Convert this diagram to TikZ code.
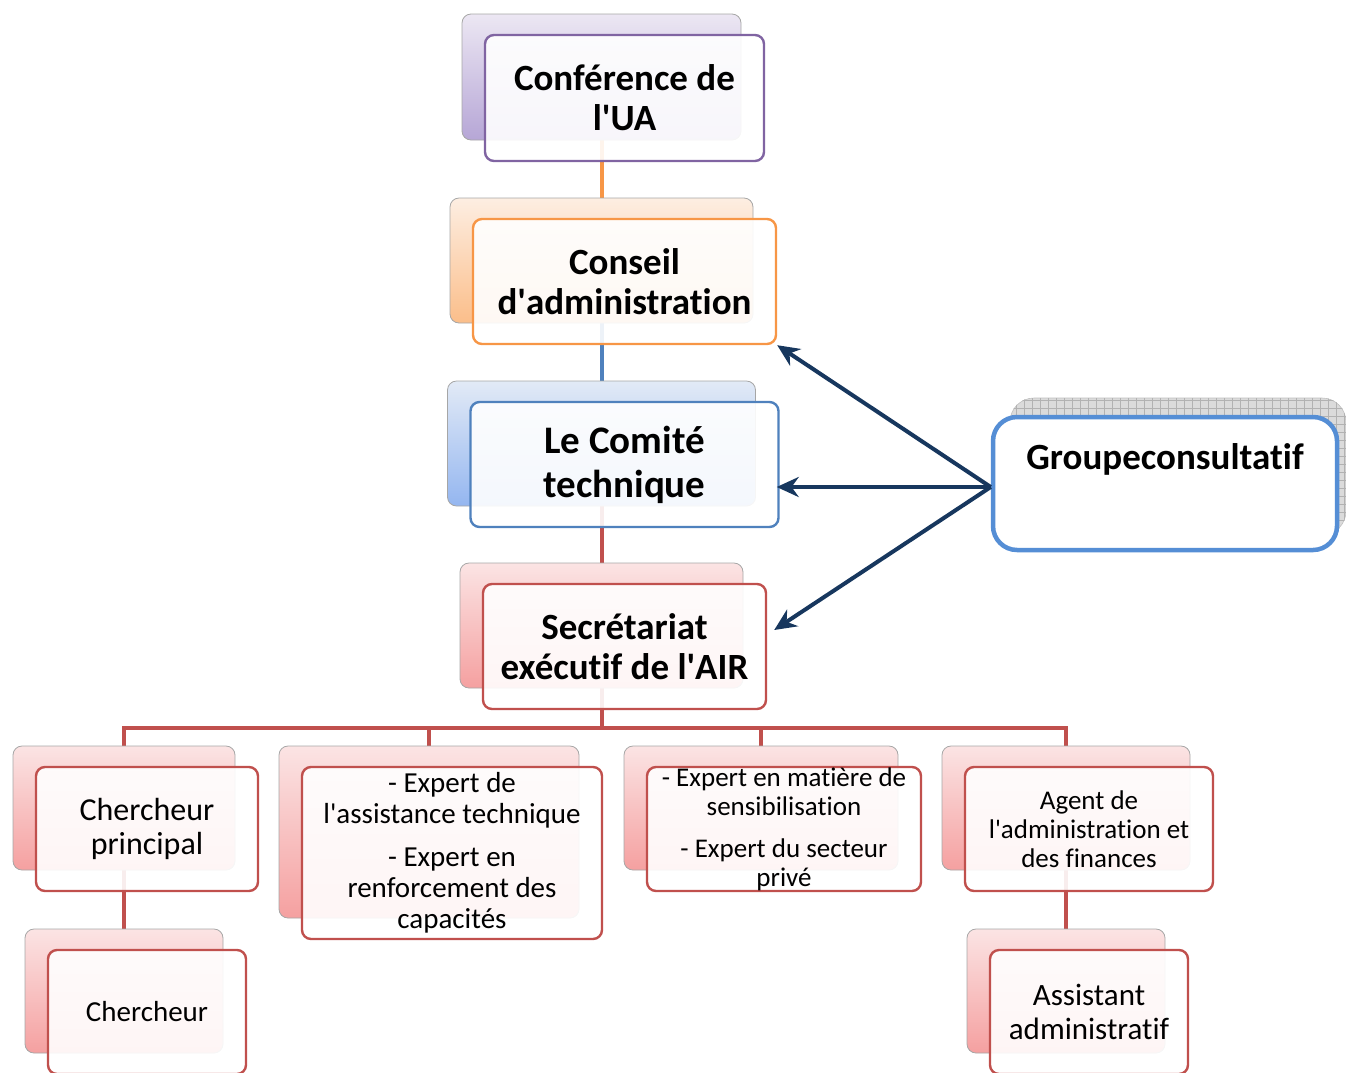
\documentclass[tikz,border=0pt]{standalone}
\usepackage{fontspec}
\setmainfont{Carlito}[Ligatures={NoCommon}]
\usetikzlibrary{arrows.meta,backgrounds}
\definecolor{purline}{HTML}{8064A2}
\definecolor{purtop}{HTML}{ECE7F3}
\definecolor{purbot}{HTML}{B6A6D6}
\definecolor{orgline}{HTML}{F79646}
\definecolor{orgtop}{HTML}{FDEEE2}
\definecolor{orgbot}{HTML}{FBBE8A}
\definecolor{bluline}{HTML}{4F81BD}
\definecolor{blutop}{HTML}{E2EAF6}
\definecolor{blubot}{HTML}{94B6F0}
\definecolor{redline}{HTML}{C0504D}
\definecolor{redtop}{HTML}{FBE4E4}
\definecolor{redbot}{HTML}{F5A0A0}
\definecolor{grpline}{HTML}{558ED5}
\definecolor{navy}{HTML}{17375E}
\tikzset{
  backbox/.style={rectangle, rounded corners=9pt, draw=gray!70, line width=0.8pt, inner sep=0pt},
  frontbox/.style={rectangle, rounded corners=9pt, fill=white, fill opacity=0.9, text opacity=1,
    line width=2.4pt, inner sep=0pt, align=center, text=black},
  conn/.style={line width=4pt},
  advarrow/.style={draw=navy, line width=4pt, -{Stealth[length=22pt,width=20pt]}},
}
\newcommand\orgbox[8]{%
  \node[backbox, top color=#6top, bottom color=#6bot, minimum width=#4, minimum height=#5] (#1b) at (#2-23,#3-21) {};
  \node[frontbox, draw=#6line, minimum width=#4, minimum height=#5, font={#7}] (#1) at (#2,#3) {#8};
}
\newcommand\ap{\textquotesingle}
\begin{document}
\begin{tikzpicture}[x=1pt,y=-1pt]
\useasboundingbox (0,0) rectangle (1346,1072);

% top chain
\orgbox{conf}{624.5}{98}{279}{126}{pur}{\bfseries\fontsize{37}{40}\selectfont}{Conférence de\\l\ap UA}
\orgbox{cons}{624.5}{281.5}{303}{125}{org}{\bfseries\fontsize{37}{40}\selectfont}{Conseil\\d\ap administration}
\orgbox{com}{624.5}{464.5}{308}{125}{blu}{\bfseries\fontsize{39}{44}\selectfont}{Le Comité\\technique}
\orgbox{sec}{624.5}{646.5}{283}{125}{red}{\bfseries\fontsize{37}{40}\selectfont}{Secrétariat\\exécutif de l\ap AIR}

% bottom row
\orgbox{cp}{147}{829}{222}{124}{red}{\fontsize{32}{34}\selectfont}{Chercheur\\principal}
\orgbox{ea}{452}{853}{300}{172}{red}{\fontsize{29}{31}\selectfont}{- Expert de\\l\ap assistance technique\\[12pt]- Expert en\\renforcement des\\capacités}
\orgbox{em}{784}{829}{274}{124}{red}{\fontsize{27}{29}\selectfont}{- Expert en matière de\\sensibilisation\\[13pt]- Expert du secteur\\privé}
\orgbox{ag}{1089}{829}{248}{124}{red}{\fontsize{27}{29}\selectfont}{Agent de\\l\ap administration et\\des finances}
\orgbox{ch}{147}{1012}{198}{124}{red}{\fontsize{29}{34}\selectfont}{Chercheur}
\orgbox{as}{1089}{1012}{198}{124}{red}{\fontsize{31}{34}\selectfont}{Assistant\\administratif}

% advisory group
\node[rectangle, rounded corners=24pt, fill=gray!28, draw=gray!50, line width=0.6pt,
      minimum width=336, minimum height=137, inner sep=0pt] (grpb) at (1178,466.5) {};
\begin{scope}
  \clip[rounded corners=24pt] (grpb.south west) rectangle (grpb.north east);
  \draw[gray!60, line width=0.6pt, step=8pt] (grpb.south west) grid (grpb.north east);
\end{scope}
\node[rectangle, rounded corners=24pt, fill=white, draw=grpline, line width=4.5pt,
      minimum width=344, minimum height=133, inner sep=0pt] (grp) at (1165,483.5) {};
\node[font={\bfseries\fontsize{37}{40}\selectfont}] (grptxt) at (1165,459) {Groupeconsultatif};

% connectors
\coordinate (bus) at (601.5,728);
\begin{pgfonlayer}{background}
  \draw[conn, draw=orgline] (confb.center) -- (consb.center);
  \draw[conn, draw=bluline] (consb.center) -- (comb.center);
  \draw[conn, draw=redline] (comb.center) -- (secb.center);
  \draw[conn, draw=redline] (secb.center) -- (bus);
  \draw[conn, draw=redline] (bus) -| (cpb.center);
  \draw[conn, draw=redline] (bus) -| (eab.center);
  \draw[conn, draw=redline] (bus) -| (emb.center);
  \draw[conn, draw=redline] (bus) -| (agb.center);
  \draw[conn, draw=redline] (cpb.center) -- (chb.center);
  \draw[conn, draw=redline] (agb.center) -- (asb.center);
\end{pgfonlayer}

% arrows
\coordinate (gw) at ([yshift=-3.5pt]grp.west);
\draw[advarrow] (gw) -- (cons.south east);
\draw[advarrow] (gw) -- ([xshift=-3pt]gw -| com.east);
\draw[advarrow] (gw) -- ([xshift=7pt,yshift=16.5pt]sec.east);
\end{tikzpicture}
\end{document}
